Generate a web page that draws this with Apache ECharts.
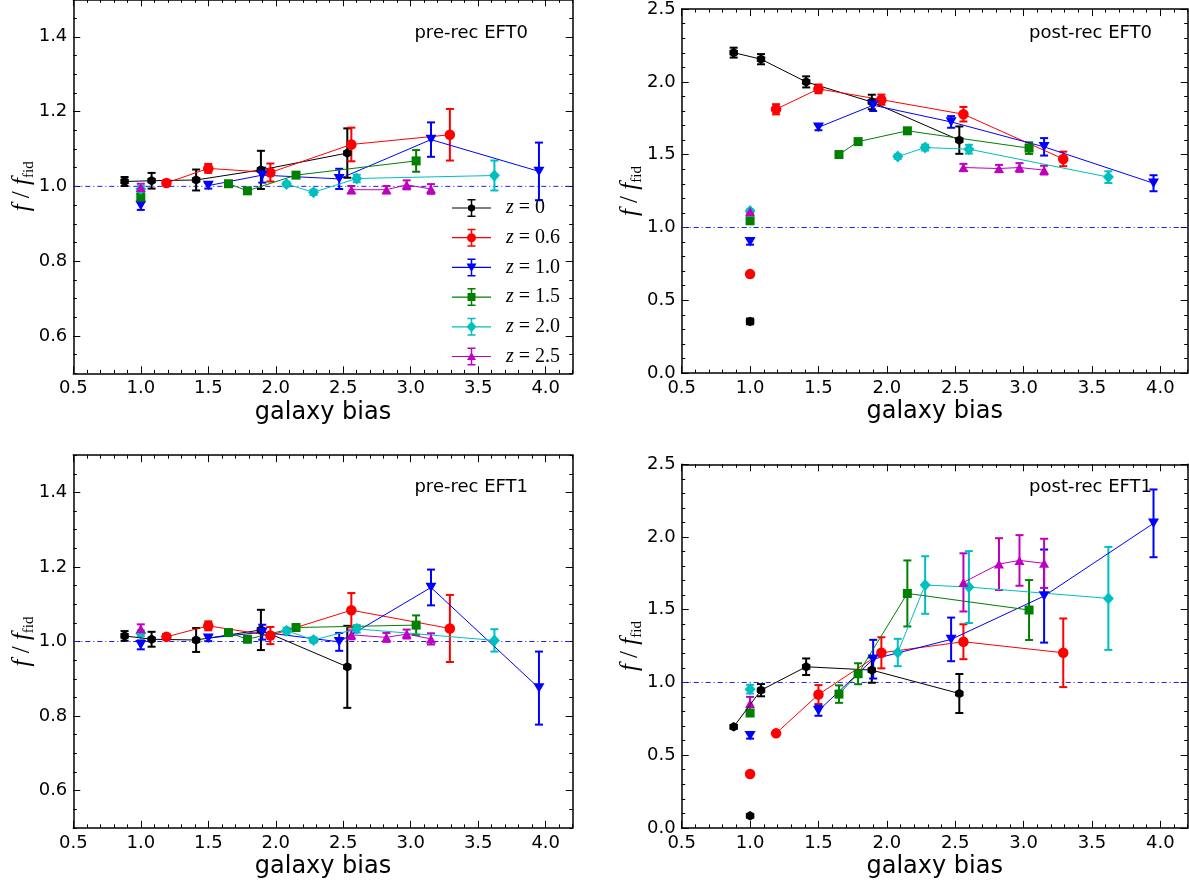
<!DOCTYPE html>
<html>
<head>
<meta charset="utf-8">
<script src="https://cdn.jsdelivr.net/npm/echarts@6/dist/echarts.min.js"></script>
<style>
html,body{margin:0;padding:0;background:#fff;}
#chart{width:1189px;height:886px;}
</style>
</head>
<body>
<div id="chart"></div>
<script>
// ---------------- DATA ----------------
const redshiftLabels = ['z = 0', 'z = 0.6', 'z = 1.0', 'z = 1.5', 'z = 2.0', 'z = 2.5'];
const panelTitles = ['pre-rec EFT0', 'post-rec EFT0', 'pre-rec EFT1', 'post-rec EFT1'];
const xTickValues = [0.5, 1.0, 1.5, 2.0, 2.5, 3.0, 3.5, 4.0];
const yTicksPre = [0.6, 0.8, 1.0, 1.2, 1.4];
const yTicksPost = [0.0, 0.5, 1.0, 1.5, 2.0, 2.5];
const xRange = [0.5, 4.2];
const matterBias = 1.0;
const fiducialRatio = 1.0;

// galaxy bias of the connected points, one list per redshift
const galaxyBias = [
  [0.88, 1.08, 1.41, 1.89, 2.53],
  [1.19, 1.50, 1.96, 2.56, 3.29],
  [1.50, 1.90, 2.47, 3.15, 3.95],
  [1.65, 1.79, 2.15, 3.04],
  [2.08, 2.28, 2.60, 3.62],
  [2.56, 2.82, 2.97, 3.15]
];

// pre-rec EFT0
const preEFT0Val = [
  [1.013, 1.015, 1.017, 1.044, 1.089],
  [1.009, 1.048, 1.037, 1.112, 1.138],
  [1.002, 1.030, 1.020, 1.125, 1.040],
  [1.007, 0.988, 1.030, 1.068],
  [1.006, 0.984, 1.021, 1.029],
  [0.991, 0.991, 1.004, 0.993]
];
const preEFT0Err = [
  [0.012, 0.021, 0.028, 0.051, 0.066],
  [0.008, 0.012, 0.024, 0.045, 0.069],
  [0.008, 0.020, 0.027, 0.046, 0.077],
  [0.006, 0.006, 0.007, 0.029],
  [0.006, 0.007, 0.010, 0.040],
  [0.010, 0.010, 0.012, 0.013]
];
const preEFT0Matter = [null, null, 0.949, 0.971, 0.993, 0.997];
const preEFT0MatterErr = [null, null, 0.012, 0.010, 0.008, 0.010];

// post-rec EFT0
const postEFT0Val = [
  [2.201, 2.156, 2.000, 1.862, 1.600],
  [1.812, 1.952, 1.878, 1.778, 1.471],
  [1.688, 1.840, 1.725, 1.554, 1.304],
  [1.501, 1.590, 1.664, 1.545],
  [1.487, 1.549, 1.538, 1.346],
  [1.412, 1.405, 1.412, 1.394]
];
const postEFT0Err = [
  [0.034, 0.035, 0.038, 0.050, 0.094],
  [0.035, 0.030, 0.035, 0.050, 0.050],
  [0.020, 0.040, 0.040, 0.060, 0.055],
  [0.015, 0.015, 0.020, 0.040],
  [0.015, 0.020, 0.030, 0.040],
  [0.025, 0.025, 0.030, 0.030]
];
const postEFT0Matter = [0.355, 0.680, 0.902, 1.046, 1.114, 1.108];
const postEFT0MatterErr = [0.020, 0.010, 0.020, 0.010, 0.010, 0.010];

// pre-rec EFT1
const preEFT1Val = [
  [1.015, 1.006, 1.004, 1.031, 0.932],
  [1.0125, 1.042, 1.016, 1.084, 1.035],
  [1.009, 1.025, 0.999, 1.145, 0.875],
  [1.024, 1.006, 1.0375, 1.044],
  [1.029, 1.004, 1.034, 1.003],
  [1.018, 1.011, 1.020, 1.007]
];
const preEFT1Err = [
  [0.013, 0.020, 0.032, 0.054, 0.110],
  [0.007, 0.012, 0.023, 0.046, 0.090],
  [0.008, 0.020, 0.024, 0.048, 0.098],
  [0.007, 0.007, 0.008, 0.026],
  [0.008, 0.007, 0.010, 0.030],
  [0.012, 0.012, 0.012, 0.015]
];
const preEFT1Matter = [null, null, 0.991, null, 1.022, 1.034];
const preEFT1MatterErr = [null, null, 0.012, null, 0.008, 0.012];

// post-rec EFT1
const postEFT1Val = [
  [0.695, 0.947, 1.108, 1.085, 0.924],
  [0.650, 0.917, 1.204, 1.280, 1.204],
  [0.806, 1.160, 1.296, 1.594, 2.094],
  [0.920, 1.060, 1.612, 1.498],
  [1.206, 1.670, 1.656, 1.578],
  [1.688, 1.814, 1.839, 1.819]
];
const postEFT1Err = [
  [0.012, 0.042, 0.057, 0.087, 0.134],
  [0.010, 0.065, 0.107, 0.120, 0.236],
  [0.035, 0.133, 0.150, 0.320, 0.233],
  [0.060, 0.072, 0.227, 0.206],
  [0.094, 0.198, 0.247, 0.354],
  [0.200, 0.178, 0.174, 0.169]
];
const postEFT1Matter = [0.083, 0.370, 0.634, 0.790, 0.954, 0.856];
const postEFT1MatterErr = [0.010, 0.010, 0.020, 0.020, 0.030, 0.045];

// ---------------- STYLE / LAYOUT ----------------
const seriesColors = ['#000000', '#ff0000', '#0000ff', '#008000', '#00bfbf', '#bf00bf'];
const seriesSymbols = [
  'path://M0,-1L0.866,-0.5L0.866,0.5L0,1L-0.866,0.5L-0.866,-0.5Z',
  'circle',
  'path://M0,0L2,0L1,1.7Z',
  'rect',
  'diamond',
  'triangle'
];
const seriesSymbolSizes = [[8.5, 9.5], 10.5, [11, 9.5], 9, [11, 12], [10, 9]];
const legendIcons = (function () {
  const base = 'M0,8.4H39V9.6H0Z M18.75,0.5H20.25V17.5H18.75Z M15.5,0H23.5V1.5H15.5Z M15.5,16.5H23.5V18H15.5Z ';
  return [
    'path://' + base + 'M19.5,5L23,7L23,11L19.5,13L16,11L16,7Z',
    'path://' + base + 'M15,9A4.5,4.5 0 1 1 24,9A4.5,4.5 0 1 1 15,9Z',
    'path://' + base + 'M14.5,5L24.5,5L19.5,13.5Z',
    'path://' + base + 'M15.5,5H23.5V13H15.5Z',
    'path://' + base + 'M19.5,3.5L24.5,9L19.5,14.5L14.5,9Z',
    'path://' + base + 'M19.5,4.5L24,12.5L15,12.5Z'
  ];
})();

const panelData = [
  {val: preEFT0Val, err: preEFT0Err, matter: preEFT0Matter, matterErr: preEFT0MatterErr, pre: true},
  {val: postEFT0Val, err: postEFT0Err, matter: postEFT0Matter, matterErr: postEFT0MatterErr, pre: false},
  {val: preEFT1Val, err: preEFT1Err, matter: preEFT1Matter, matterErr: preEFT1MatterErr, pre: true},
  {val: postEFT1Val, err: postEFT1Err, matter: postEFT1Matter, matterErr: postEFT1MatterErr, pre: false}
];
const layout = [
  {left: 73.3, top: -0.65, width: 499.4, height: 374, titleRight: 661, titleTop: 24},
  {left: 681.7, top: 9.1, width: 506, height: 364, titleRight: 37, titleTop: 24},
  {left: 73.3, top: 455.15, width: 499.4, height: 372.7, titleRight: 661, titleTop: 478},
  {left: 681.7, top: 464.3, width: 506, height: 363.6, titleRight: 37, titleTop: 478}
];

const black = '#000';
const fiducialColor = '#1a1aff';
const tickFont = {fontSize: 18, fontFamily: 'DejaVu Sans', color: black};

function xAxisDef(i, pos, major, withLabel) {
  return {
    type: 'value', gridIndex: i, min: xRange[0], max: xRange[1], position: pos,
    interval: major ? 0.5 : 0.1,
    axisLine: {show: major, onZero: false, lineStyle: {color: black, width: 1.5}},
    axisTick: major
      ? {show: true, inside: true, length: 7, customValues: xTickValues, lineStyle: {color: black, width: 1}}
      : {show: true, inside: true, length: 3.5, lineStyle: {color: black, width: 1}},
    axisLabel: withLabel
      ? Object.assign({show: true, customValues: xTickValues, margin: 6, formatter: v => v.toFixed(1)}, tickFont)
      : {show: false},
    splitLine: {show: false},
    name: withLabel ? 'galaxy bias' : '',
    nameLocation: 'middle', nameGap: 27, nameMoveOverlap: false,
    nameTextStyle: {fontSize: 24, fontFamily: 'DejaVu Sans', color: black}
  };
}
function yAxisDef(i, pos, major, withLabel, pre) {
  const ticks = pre ? yTicksPre : yTicksPost;
  return {
    type: 'value', gridIndex: i, position: pos,
    min: pre ? 0.5 : 0.0, max: pre ? 1.5 : 2.5,
    interval: major ? (pre ? 0.1 : 0.5) : (pre ? 0.05 : 0.1),
    axisLine: {show: major, onZero: false, lineStyle: {color: black, width: 1.5}},
    axisTick: major
      ? {show: true, inside: true, length: 7, customValues: ticks, lineStyle: {color: black, width: 1}}
      : {show: true, inside: true, length: 3.5, lineStyle: {color: black, width: 1}},
    axisLabel: withLabel
      ? Object.assign({show: true, customValues: ticks, margin: 6, formatter: v => v.toFixed(1)}, tickFont)
      : {show: false},
    splitLine: {show: false},
    name: withLabel ? '{i|f}{n| / }{i|f}{s|fid}' : '',
    nameLocation: 'middle', nameRotate: 90, nameGap: 37, nameMoveOverlap: false,
    nameTextStyle: {
      rich: {
        i: {fontFamily: 'Liberation Serif', fontStyle: 'italic', fontSize: 25, lineHeight: 28, color: black},
        n: {fontFamily: 'Liberation Serif', fontSize: 25, lineHeight: 28, color: black},
        s: {fontFamily: 'Liberation Serif', fontSize: 15, lineHeight: 15, verticalAlign: 'bottom', color: black}
      }
    }
  };
}

function renderErr(params, api) {
  const x = api.value(0), y = api.value(1), e = api.value(2);
  const top = api.coord([x, y + e]);
  const bot = api.coord([x, y - e]);
  const c = api.visual('color');
  const hw = 4;
  const st = {stroke: c, lineWidth: 2};
  return {
    type: 'group',
    children: [
      {type: 'line', shape: {x1: top[0], y1: top[1], x2: bot[0], y2: bot[1]}, style: st},
      {type: 'line', shape: {x1: top[0] - hw, y1: top[1], x2: top[0] + hw, y2: top[1]}, style: st},
      {type: 'line', shape: {x1: bot[0] - hw, y1: bot[1], x2: bot[0] + hw, y2: bot[1]}, style: st}
    ]
  };
}

const grids = [], xAxes = [], yAxes = [], series = [], titles = [];
layout.forEach((L, i) => {
  grids.push({left: L.left, top: L.top, width: L.width, height: L.height, containLabel: false, outerBoundsMode: 'none'});
  xAxes.push(xAxisDef(i, 'bottom', true, true));
  xAxes.push(xAxisDef(i, 'bottom', false, false));
  xAxes.push(xAxisDef(i, 'top', true, false));
  xAxes.push(xAxisDef(i, 'top', false, false));
  const pre = panelData[i].pre;
  yAxes.push(yAxisDef(i, 'left', true, true, pre));
  yAxes.push(yAxisDef(i, 'left', false, false, pre));
  yAxes.push(yAxisDef(i, 'right', true, false, pre));
  yAxes.push(yAxisDef(i, 'right', false, false, pre));
  titles.push({
    text: panelTitles[i], right: L.titleRight, top: L.titleTop, padding: 0,
    textStyle: {fontSize: 18, fontWeight: 'normal', fontFamily: 'DejaVu Sans', color: black}
  });
});

panelData.forEach((P, i) => {
  const xi = 4 * i, yi = 4 * i;
  // fiducial reference line f/f_fid = 1 (blue dash-dot), drawn through the axes
  series.push({
    type: 'line', name: 'fiducial', xAxisIndex: xi, yAxisIndex: yi,
    data: [[xRange[0], fiducialRatio], [xRange[1], fiducialRatio]],
    symbol: 'none', silent: true, animation: false, z: 1,
    itemStyle: {color: fiducialColor},
    lineStyle: {color: fiducialColor, width: 1, type: [5, 3, 1, 3], opacity: 1}
  });
  for (let k = 0; k < 6; k++) {
    const color = seriesColors[k];
    const name = redshiftLabels[k];
    const pts = galaxyBias[k].map((b, j) => [b, P.val[k][j]]);
    const errRows = galaxyBias[k].map((b, j) => [b, P.val[k][j], P.err[k][j]]);
    if (P.matter[k] !== null) errRows.push([matterBias, P.matter[k], P.matterErr[k]]);
    series.push({
      type: 'custom', name: name, xAxisIndex: xi, yAxisIndex: yi,
      renderItem: renderErr, data: errRows, encode: {x: 0, y: 1},
      itemStyle: {color: color}, silent: true, animation: false
    });
    series.push({
      type: 'line', name: name, xAxisIndex: xi, yAxisIndex: yi, data: pts,
      symbol: seriesSymbols[k], symbolSize: seriesSymbolSizes[k], showAllSymbol: true,
      lineStyle: {color: color, width: 1}, itemStyle: {color: color, opacity: 1},
      silent: true, animation: false
    });
    if (P.matter[k] !== null) {
      series.push({
        type: 'scatter', name: name, xAxisIndex: xi, yAxisIndex: yi,
        data: [[matterBias, P.matter[k]]],
        symbol: seriesSymbols[k], symbolSize: seriesSymbolSizes[k],
        itemStyle: {color: color, opacity: 1}, silent: true, animation: false
      });
    }
  }
});

const option = {
  animation: false,
  backgroundColor: '#ffffff',
  title: titles,
  grid: grids,
  xAxis: xAxes,
  yAxis: yAxes,
  legend: {
    orient: 'vertical', left: 452, top: 198, padding: 0,
    itemWidth: 39, itemHeight: 18, itemGap: 9.7, selectedMode: false,
    data: redshiftLabels.map((n, k) => ({name: n, icon: legendIcons[k], itemStyle: {color: seriesColors[k]}})),
    formatter: name => '{i|z}{n|' + name.slice(1) + '}',
    textStyle: {
      rich: {
        i: {fontFamily: 'Liberation Serif', fontStyle: 'italic', fontSize: 20, color: black, padding: [0, 0, 0, 10]},
        n: {fontFamily: 'Liberation Serif', fontSize: 20, color: black}
      }
    }
  },
  series: series
};

const chart = echarts.init(document.getElementById('chart'), null, {renderer: 'canvas'});
chart.setOption(option);
</script>
</body>
</html>
